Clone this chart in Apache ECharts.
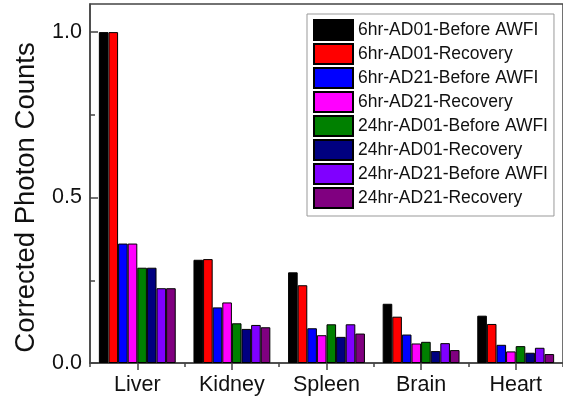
<!DOCTYPE html>
<html>
<head>
<meta charset="utf-8">
<script src="https://cdn.jsdelivr.net/npm/echarts@6/dist/echarts.min.js"></script>
<style>
  html, body { margin: 0; padding: 0; background: #fff; }
  #chart { width: 563px; height: 399px; }
</style>
</head>
<body>
<div id="chart"></div>
<script>
const categories = ['Liver', 'Kidney', 'Spleen', 'Brain', 'Heart'];
const seriesNames = [
  '6hr-AD01-Before AWFI',
  '6hr-AD01-Recovery',
  '6hr-AD21-Before AWFI',
  '6hr-AD21-Recovery',
  '24hr-AD01-Before AWFI',
  '24hr-AD01-Recovery',
  '24hr-AD21-Before AWFI',
  '24hr-AD21-Recovery'
];
const hr6AD01Before = [1.0, 0.312, 0.274, 0.179, 0.143];
const hr6AD01Recovery = [1.0, 0.314, 0.235, 0.140, 0.118];
const hr6AD21Before = [0.361, 0.168, 0.105, 0.086, 0.055];
const hr6AD21Recovery = [0.361, 0.183, 0.084, 0.059, 0.035];
const hr24AD01Before = [0.288, 0.120, 0.117, 0.064, 0.051];
const hr24AD01Recovery = [0.288, 0.103, 0.079, 0.036, 0.031];
const hr24AD21Before = [0.226, 0.115, 0.117, 0.060, 0.046];
const hr24AD21Recovery = [0.226, 0.108, 0.089, 0.039, 0.027];
const yTickValues = [0.0, 0.5, 1.0];

const seriesValues = [hr6AD01Before, hr6AD01Recovery, hr6AD21Before, hr6AD21Recovery,
  hr24AD01Before, hr24AD01Recovery, hr24AD21Before, hr24AD21Recovery];
const colors = ['#000000', '#ff0000', '#0000ff', '#ff00ff', '#008000', '#000080', '#8000ff', '#800080'];

const FONT = "'Liberation Sans', Arial, sans-serif";
const AXIS_COLOR = '#444';

const chart = echarts.init(document.getElementById('chart'), null, { renderer: 'canvas' });

const option = {
  animation: false,
  backgroundColor: '#fff',
  textStyle: { fontFamily: FONT, color: '#000' },
  grid: [
    { left: 90, right: -7, top: 4, bottom: 36, show: true, borderColor: AXIS_COLOR, borderWidth: 1.5, backgroundColor: 'transparent' },
    { left: 90, right: -7, top: 32, bottom: 36, show: false }
  ],
  legend: {
    orient: 'vertical',
    left: 307,
    top: 14,
    icon: 'rect',
    itemWidth: 39,
    itemHeight: 20,
    itemGap: 2,
    padding: [5, 6, 7, 6],
    borderColor: '#999',
    borderWidth: 1,
    backgroundColor: '#fff',
    textStyle: { fontFamily: FONT, fontSize: 17.5, color: '#111' },
    data: seriesNames
  },
  xAxis: [
    {
      gridIndex: 0,
      type: 'category',
      data: categories,
      axisLine: { show: true, lineStyle: { color: AXIS_COLOR, width: 1.5 } },
      axisTick: { show: true, alignWithLabel: true, length: 7, lineStyle: { color: AXIS_COLOR, width: 1.5 } },
      axisLabel: { fontFamily: FONT, fontSize: 21.5, color: '#111', margin: 11 },
      splitLine: { show: false }
    },
    {
      gridIndex: 0,
      type: 'category',
      data: categories,
      position: 'bottom',
      axisLine: { show: false },
      axisTick: { show: true, length: 4, lineStyle: { color: AXIS_COLOR, width: 1.5 } },
      axisLabel: { show: false },
      splitLine: { show: false }
    },
    {
      gridIndex: 1,
      type: 'category',
      data: categories,
      show: false
    }
  ],
  yAxis: [
    {
      gridIndex: 0,
      type: 'value',
      min: 0,
      max: 1.085,
      axisLine: { show: true, lineStyle: { color: AXIS_COLOR, width: 1.5 } },
      axisTick: { show: false },
      axisLabel: { show: false },
      splitLine: { show: false }
    },
    {
      gridIndex: 1,
      type: 'value',
      min: 0,
      max: 1.0,
      interval: 0.5,
      name: 'Corrected Photon Counts',
      nameLocation: 'middle',
      nameGap: 50,
      nameTextStyle: { fontFamily: FONT, fontSize: 27.5, color: '#111' },
      axisLine: { show: false },
      axisTick: { show: true, inside: true, length: 8, lineStyle: { color: AXIS_COLOR, width: 1.5 } },
      minorTick: { show: true, splitNumber: 2, length: 5, lineStyle: { color: AXIS_COLOR, width: 1.5 } },
      axisLabel: {
        fontFamily: FONT, fontSize: 21.5, color: '#111', margin: 8,
        formatter: v => (yTickValues.includes(v) ? v.toFixed(1) : '')
      },
      splitLine: { show: false }
    }
  ],
  series: seriesNames.map((name, i) => ({
    name: name,
    type: 'bar',
    xAxisIndex: 0,
    yAxisIndex: 0,
    data: seriesValues[i],
    barGap: '0%',
    barCategoryGap: '18.75%',
    itemStyle: { color: colors[i], borderColor: '#000', borderWidth: 1 }
  }))
};

chart.setOption(option);
</script>
</body>
</html>
